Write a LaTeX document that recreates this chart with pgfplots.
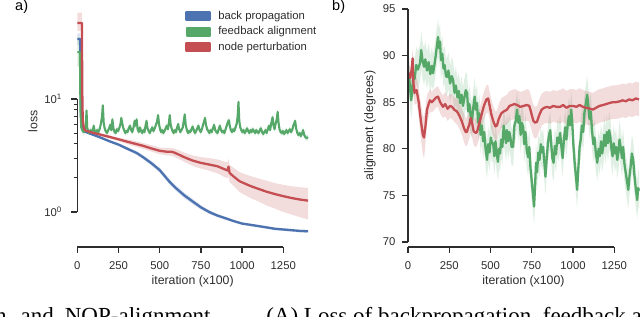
\documentclass[border=0pt]{standalone}
\usepackage{fontspec}
\setmainfont{Liberation Sans}
\newfontfamily\capfont{Liberation Serif}
\usepackage{pgfplots}
\usepackage{pgfplotstable}
\pgfplotsset{compat=1.18}
\usepgfplotslibrary{fillbetween}
\definecolor{sbblue}{RGB}{76,114,176}
\definecolor{sbgreen}{RGB}{85,168,104}
\definecolor{sbred}{RGB}{196,78,82}
\definecolor{axgray}{RGB}{45,45,45}

% ---------- panel a: loss ----------
\pgfplotstableread{
x v lo hi
0 34 30 38
18 34 30 38
20 12 11 13
24 6.2 6.0 6.4
32 5.4 5.3 5.5
45 5.15 5.05 5.25
100 4.8 4.7 4.9
150 4.5 4.4 4.6
200 4.2 4.1 4.3
250 3.95 3.84 4.06
300 3.65 3.53 3.77
360 3.33 3.2 3.45
400 3.05 2.92 3.18
450 2.70 2.57 2.83
500 2.35 2.23 2.47
560 1.85 1.75 1.95
600 1.62 1.53 1.71
650 1.40 1.32 1.48
700 1.24 1.17 1.31
750 1.10 1.05 1.15
800 1.00 0.96 1.04
850 0.93 0.90 0.96
900 0.88 0.85 0.91
950 0.83 0.81 0.85
1000 0.79 0.77 0.81
1050 0.77 0.75 0.79
1100 0.75 0.73 0.77
1150 0.73 0.71 0.75
1200 0.71 0.69 0.73
1250 0.70 0.68 0.72
1300 0.69 0.67 0.71
1350 0.68 0.66 0.70
1400 0.675 0.655 0.695
}\blueL

\pgfplotstableread{
x v lo hi
0 47 40 58
28 47 40 58
30 12 11 13
33 6.5 6.3 6.7
40 5.5 5.35 5.65
50 5.25 5.1 5.4
100 5.0 4.85 5.15
150 4.8 4.65 4.95
200 4.6 4.45 4.75
250 4.4 4.25 4.55
300 4.2 4.0 4.4
350 4.02 3.8 4.25
400 3.85 3.62 4.08
450 3.65 3.42 3.9
500 3.48 3.25 3.72
540 3.42 3.18 3.68
570 3.42 3.15 3.7
590 3.35 3.08 3.63
620 3.2 2.93 3.5
650 3.05 2.77 3.35
700 2.85 2.56 3.17
750 2.72 2.42 3.06
800 2.63 2.32 3.0
850 2.54 2.2 2.92
890 2.40 2.05 2.8
912 2.33 1.98 2.74
918 2.52 2.1 2.95
924 2.22 1.85 2.62
945 2.08 1.72 2.48
985 1.87 1.5 2.25
1050 1.70 1.33 2.08
1100 1.60 1.24 1.98
1150 1.51 1.14 1.89
1200 1.44 1.07 1.8
1250 1.38 1.0 1.74
1300 1.33 0.95 1.69
1350 1.29 0.9 1.66
1400 1.26 0.86 1.63
}\redL

\pgfplotstableread{
x v
0 26
16 26
19 8
24 5.6
30 5.3
38 5.1
45 5.2
52 6.0
56 7.9
60 5.6
66 5.2
72 5.0
80 5.3
88 5.1
95 5.4
100 5.8
105 5.2
112 5.0
120 5.3
128 5.1
135 5.4
142 5.9
150 7.0
155 8.8
160 6.2
166 5.5
172 5.2
180 5.0
188 5.3
195 5.6
200 5.9
206 5.3
213 6.6
219 5.5
226 5.1
233 5.0
240 5.4
248 5.2
256 5.6
262 6.0
267 6.8
272 6.2
278 5.6
284 5.3
291 5.0
298 5.2
305 5.1
312 5.5
320 5.8
327 5.3
334 5.1
341 5.6
348 6.4
354 5.8
360 6.6
366 5.4
373 5.1
380 5.6
387 5.2
394 5.0
401 5.3
408 5.1
414 5.8
420 6.4
426 5.5
433 5.2
440 5.0
447 5.3
455 5.6
462 5.2
470 5.5
477 5.9
484 6.3
490 7.2
496 6.0
502 5.4
508 5.1
515 5.3
522 5.0
529 5.2
536 5.5
543 5.8
550 5.4
556 6.2
561 7.2
566 6.0
572 5.5
578 5.2
585 5.0
592 5.3
599 5.1
606 5.6
612 6.0
618 5.4
625 5.1
632 5.3
640 5.6
646 6.4
652 7.3
658 5.9
665 5.3
672 5.0
679 5.2
686 5.1
693 5.4
700 5.7
707 5.3
714 5.0
721 5.2
728 5.5
735 5.8
742 5.3
749 5.1
756 5.4
763 5.9
769 6.3
775 6.8
781 5.9
788 5.4
795 5.2
802 5.0
809 5.3
816 5.1
823 5.5
830 5.9
837 5.3
844 5.1
851 5.0
858 5.4
865 5.8
872 5.3
879 5.1
886 5.2
893 5.0
900 5.4
907 5.8
913 6.2
920 6.5
926 5.7
932 5.3
939 5.1
946 5.4
953 5.2
960 5.6
967 6.0
973 7.0
978 9.4
983 6.4
989 5.6
995 5.3
1002 5.1
1009 5.3
1016 5.0
1023 5.2
1030 5.5
1037 5.2
1044 5.0
1051 5.3
1058 5.1
1065 5.4
1072 5.2
1079 5.0
1086 5.3
1093 5.1
1100 5.0
1107 5.3
1114 5.5
1121 5.1
1128 4.9
1135 5.1
1142 5.3
1149 5.0
1156 5.4
1163 5.8
1170 5.3
1177 6.1
1185 6.9
1191 5.8
1197 5.4
1203 6.0
1210 6.6
1216 7.7
1221 6.2
1227 5.4
1234 5.1
1241 5.0
1248 5.2
1255 4.9
1262 5.1
1269 5.3
1276 5.0
1283 5.2
1290 5.4
1297 5.1
1304 5.3
1311 5.8
1317 6.1
1322 6.4
1328 5.5
1335 5.0
1342 4.8
1349 5.0
1356 4.7
1363 4.9
1370 5.3
1377 4.8
1384 4.6
1391 4.5
1400 4.6
}\greenL

% ---------- panel b: alignment ----------
\pgfplotstableread{
x v hw
0 88.2 1.0
6 88.0 1.0
14 87.6 1.0
22 88.5 1.0
28 89.7 1.1
33 87.0 1.2
40 86.0 1.3
52 86.3 1.4
65 85.0 1.6
78 83.0 1.9
90 81.5 2.1
97 81.2 2.2
105 82.3 2.0
115 84.2 1.6
125 84.8 1.3
133 85.2 1.2
145 85.0 1.1
160 85.3 1.1
170 85.5 1.1
182 85.6 1.1
195 85.0 1.2
212 84.5 1.2
225 84.8 1.3
240 84.3 1.3
255 84.6 1.3
267 84.5 1.3
280 84.2 1.3
297 84.0 1.4
310 83.6 1.4
325 83.0 1.4
340 82.2 1.5
350 81.8 1.5
357 81.8 1.5
365 82.3 1.5
372 82.6 1.5
380 83.3 1.5
388 82.8 1.5
398 81.9 1.5
410 81.7 1.5
418 81.8 1.5
430 82.6 1.5
445 83.6 1.5
460 84.6 1.5
475 85.3 1.5
486 85.4 1.5
495 84.6 1.5
505 83.7 1.6
518 82.9 1.6
530 82.4 1.6
539 82.5 1.6
550 83.2 1.6
565 83.8 1.6
580 84.0 1.6
600 84.2 1.6
615 84.6 1.6
630 84.7 1.6
645 84.8 1.6
661 84.7 1.6
680 84.5 1.6
700 84.6 1.6
720 84.7 1.7
735 84.6 1.7
745 84.0 1.7
752 83.5 1.7
760 83.0 1.7
770 82.8 1.7
782 82.9 1.7
795 83.6 1.7
810 84.2 1.7
825 84.4 1.7
843 84.5 1.7
860 84.4 1.7
880 84.6 1.7
900 84.5 1.7
922 84.5 1.8
940 84.7 1.8
960 84.4 1.8
980 84.6 1.8
1001 84.6 1.8
1020 84.5 1.8
1040 84.7 1.8
1060 84.5 1.8
1080 84.4 1.8
1104 84.3 1.8
1120 84.2 1.8
1140 84.4 1.8
1160 84.6 1.8
1183 84.7 1.8
1200 84.8 1.8
1220 84.9 1.8
1240 85.0 1.8
1260 85.0 1.8
1286 85.1 1.8
1300 85.2 1.8
1320 85.1 1.8
1340 85.3 1.8
1360 85.2 1.8
1380 85.4 1.8
1400 85.3 1.8
}\redR

\pgfplotstableread{
x v
0 87.5
6 88.0
12 86.6
19 85.2
25 86.0
32 88.0
40 87.5
50 89.0
60 88.5
73 89.2
80 90.6
88 89.5
97 88.8
105 89.6
115 88.4
125 89.3
135 88.0
145 88.9
152 88.1
160 89.0
168 90.0
175 91.0
182 92.0
188 90.8
194 91.5
200 89.5
208 90.2
215 88.6
222 89.0
230 87.8
236 87.7
245 88.4
255 87.0
265 87.8
273 87.4
282 86.0
290 86.8
300 85.5
308 86.2
316 84.9
325 85.8
333 84.6
342 85.5
350 86.3
358 86.0
365 84.0
372 84.8
380 83.5
388 83.1
396 84.5
404 85.6
411 84.2
418 84.9
425 82.8
433 83.8
440 81.5
448 82.5
455 80.8
462 81.8
470 80.0
479 78.8
486 80.5
494 79.6
502 81.2
509 80.6
516 80.6
523 79.2
530 80.8
538 79.5
545 78.6
552 80.0
558 79.5
565 81.0
572 80.2
580 82.5
587 81.5
594 80.6
600 82.0
607 80.8
614 81.8
620 81.3
628 80.2
637 80.2
645 82.5
653 83.0
661 84.2
668 82.8
675 83.5
683 81.5
690 82.8
698 82.3
705 80.5
712 81.8
720 79.8
728 79.1
735 80.2
742 78.0
750 76.5
757 75.2
764 73.8
770 76.0
776 78.5
782 77.5
790 79.6
797 78.8
805 80.5
812 79.6
819 80.2
826 78.6
833 77.0
840 78.8
848 80.6
855 81.5
862 82.0
868 80.5
875 79.0
882 78.5
890 80.3
897 79.4
905 81.2
913 80.6
922 81.7
930 80.2
937 79.0
945 81.0
953 82.3
960 81.0
968 82.6
975 83.5
982 82.5
989 84.2
995 83.0
1002 80.5
1010 78.5
1018 77.0
1025 75.6
1032 77.8
1040 80.2
1047 81.0
1054 82.5
1062 81.8
1069 83.8
1077 84.8
1086 85.8
1093 84.6
1100 83.2
1108 84.0
1115 82.0
1123 80.5
1130 81.2
1138 79.6
1147 78.5
1155 80.0
1162 79.2
1170 80.8
1177 79.5
1183 80.2
1190 81.5
1198 80.3
1205 81.8
1212 80.6
1219 82.0
1226 81.3
1233 80.0
1240 79.2
1247 80.6
1254 79.5
1261 80.2
1268 78.8
1275 79.6
1282 81.0
1290 80.0
1297 79.0
1304 80.2
1311 78.5
1318 77.6
1325 76.8
1335 75.6
1342 77.0
1350 78.2
1357 79.5
1365 78.8
1372 77.2
1380 75.8
1389 74.5
1395 75.8
1400 75.5
}\greenR

\tikzset{spine/.style={axgray, line width=1.3pt}}
\pgfplotsset{
  sbaxis/.style={
    scale only axis, anchor=south west,
    xmin=0, xmax=1400,
    axis lines*=left, axis line style={draw=none},
    xtick={0,250,500,750,1000,1250},
    xticklabels={0,250,500,750,1000,1250},
    tick align=outside, major tick length=6pt, minor tick length=3.5pt,
    major tick style={axgray, line width=1.3pt},
    minor tick style={axgray, line width=1.0pt},
    ticklabel style={font=\fontsize{11.3}{13}\selectfont, text=axgray},
    xticklabel style={yshift=-5pt},
    label style={font=\fontsize{12.3}{14}\selectfont, text=axgray},
    xlabel={iteration (x100)},
    xlabel style={at={(axis description cs:0.5,0)}, anchor=center, yshift=-34.7pt},
    clip=false,
  },
}

\begin{document}
\begin{tikzpicture}[x=1pt,y=1pt]
% ----- panel a -----
\begin{axis}[sbaxis,
  at={(77.3pt,69pt)}, width=230.7pt, height=243pt,
  ymode=log, ymin=0.49, ymax=69.3,
  ytick={1,10}, yticklabels={10\textsuperscript{0},10\textsuperscript{1}},
  minor ytick={2,3,4,5,6,7,8,9},
  yticklabel style={xshift=-6pt},
  ylabel={loss},
  ylabel style={at={(axis description cs:-0.192,0.516)}, anchor=center},
  legend style={at={(axis description cs:0.468,0.978)}, anchor=north west,
    draw=none, fill=none, inner sep=0pt, row sep=3pt, column sep=6pt,
    font=\fontsize{11.3}{13}\selectfont, text=axgray,
    nodes={inner sep=1.5pt}},
  legend cell align=left,
  legend image code/.code={\fill[#1] (0pt,-4pt) rectangle (23pt,4pt);},
]
% bands
\addplot[draw=none, name path=bh, forget plot] table[x=x,y=hi]{\blueL};
\addplot[draw=none, name path=bl, forget plot] table[x=x,y=lo]{\blueL};
\addplot[fill=sbblue, fill opacity=0.2, draw=none, forget plot] fill between[of=bh and bl];
\addplot[draw=none, name path=gh, forget plot] table[x=x,y expr={\thisrow{v}*ifthenelse(\thisrow{x}<17,1.35,1.06)}]{\greenL};
\addplot[draw=none, name path=gl, forget plot] table[x=x,y expr={\thisrow{v}/ifthenelse(\thisrow{x}<17,1.35,1.06)}]{\greenL};
\addplot[fill=sbgreen, fill opacity=0.2, draw=none, forget plot] fill between[of=gh and gl];
\addplot[draw=none, name path=rh, forget plot] table[x=x,y=hi]{\redL};
\addplot[draw=none, name path=rl, forget plot] table[x=x,y=lo]{\redL};
\addplot[fill=sbred, fill opacity=0.2, draw=none, forget plot] fill between[of=rh and rl];
% lines
\addplot[sbblue, line width=2.3pt, line join=round] table[x=x,y=v]{\blueL};
\addlegendentry{back propagation}
\addplot[sbgreen, line width=2.1pt, line join=round] table[x=x,y=v]{\greenL};
\addlegendentry{feedback alignment}
\addplot[sbred, line width=2.3pt, line join=round] table[x=x,y=v]{\redL};
\addlegendentry{node perturbation}
% trimmed spines
\draw[spine] (axis cs:0,0.49) -- (axis cs:1250,0.49);
\draw[spine] (axis cs:0,1) -- (axis cs:0,10);
\end{axis}

% ----- panel b -----
\begin{axis}[sbaxis,
  at={(408pt,69pt)}, width=231pt, height=243pt,
  ymin=69.464, ymax=95.536,
  ytick={70,75,80,85,90,95}, yticklabels={70,75,80,85,90,95},
  yticklabel style={xshift=-3pt},
  ylabel={alignment (degrees)},
  ylabel style={at={(axis description cs:-0.1645,0.5)}, anchor=center},
]
\addplot[draw=none, name path=gh2] table[x=x,y expr={\thisrow{v}+2.0}]{\greenR};
\addplot[draw=none, name path=gl2] table[x=x,y expr={\thisrow{v}-2.0}]{\greenR};
\addplot[fill=sbgreen, fill opacity=0.18, draw=none] fill between[of=gh2 and gl2];
\addplot[draw=none, name path=rh2] table[x=x,y expr={\thisrow{v}+\thisrow{hw}}]{\redR};
\addplot[draw=none, name path=rl2] table[x=x,y expr={\thisrow{v}-\thisrow{hw}}]{\redR};
\addplot[fill=sbred, fill opacity=0.2, draw=none] fill between[of=rh2 and rl2];
\addplot[sbgreen, line width=2.3pt, line join=round] table[x=x,y=v]{\greenR};
\addplot[sbred, line width=2.3pt, line join=round] table[x=x,y=v]{\redR};
\draw[spine] (axis cs:0,69.464) -- (axis cs:1250,69.464);
\draw[spine] (axis cs:0,70) -- (axis cs:0,95);
\end{axis}

% panel letters
\node[anchor=base west, inner sep=0pt, font=\fontsize{14.5}{16}\selectfont, text=black] at (15pt,305pt) {a)};
\node[anchor=base west, inner sep=0pt, font=\fontsize{14.5}{16}\selectfont, text=black] at (332pt,305pt) {b)};
% cropped caption line of the source page (justified text, only its top shows)
\node[anchor=base west, inner sep=0pt, font=\capfont\fontsize{23}{26}\selectfont, text=black] at (-5pt,-7pt)
  {h\hspace{14pt}and\hspace{11pt}NOP-alignment.\hspace{50pt}(A) Loss of backpropagation, feedback alignment};

\pgfresetboundingbox
\useasboundingbox (0,0) rectangle (640pt,316pt);
\end{tikzpicture}
\end{document}
